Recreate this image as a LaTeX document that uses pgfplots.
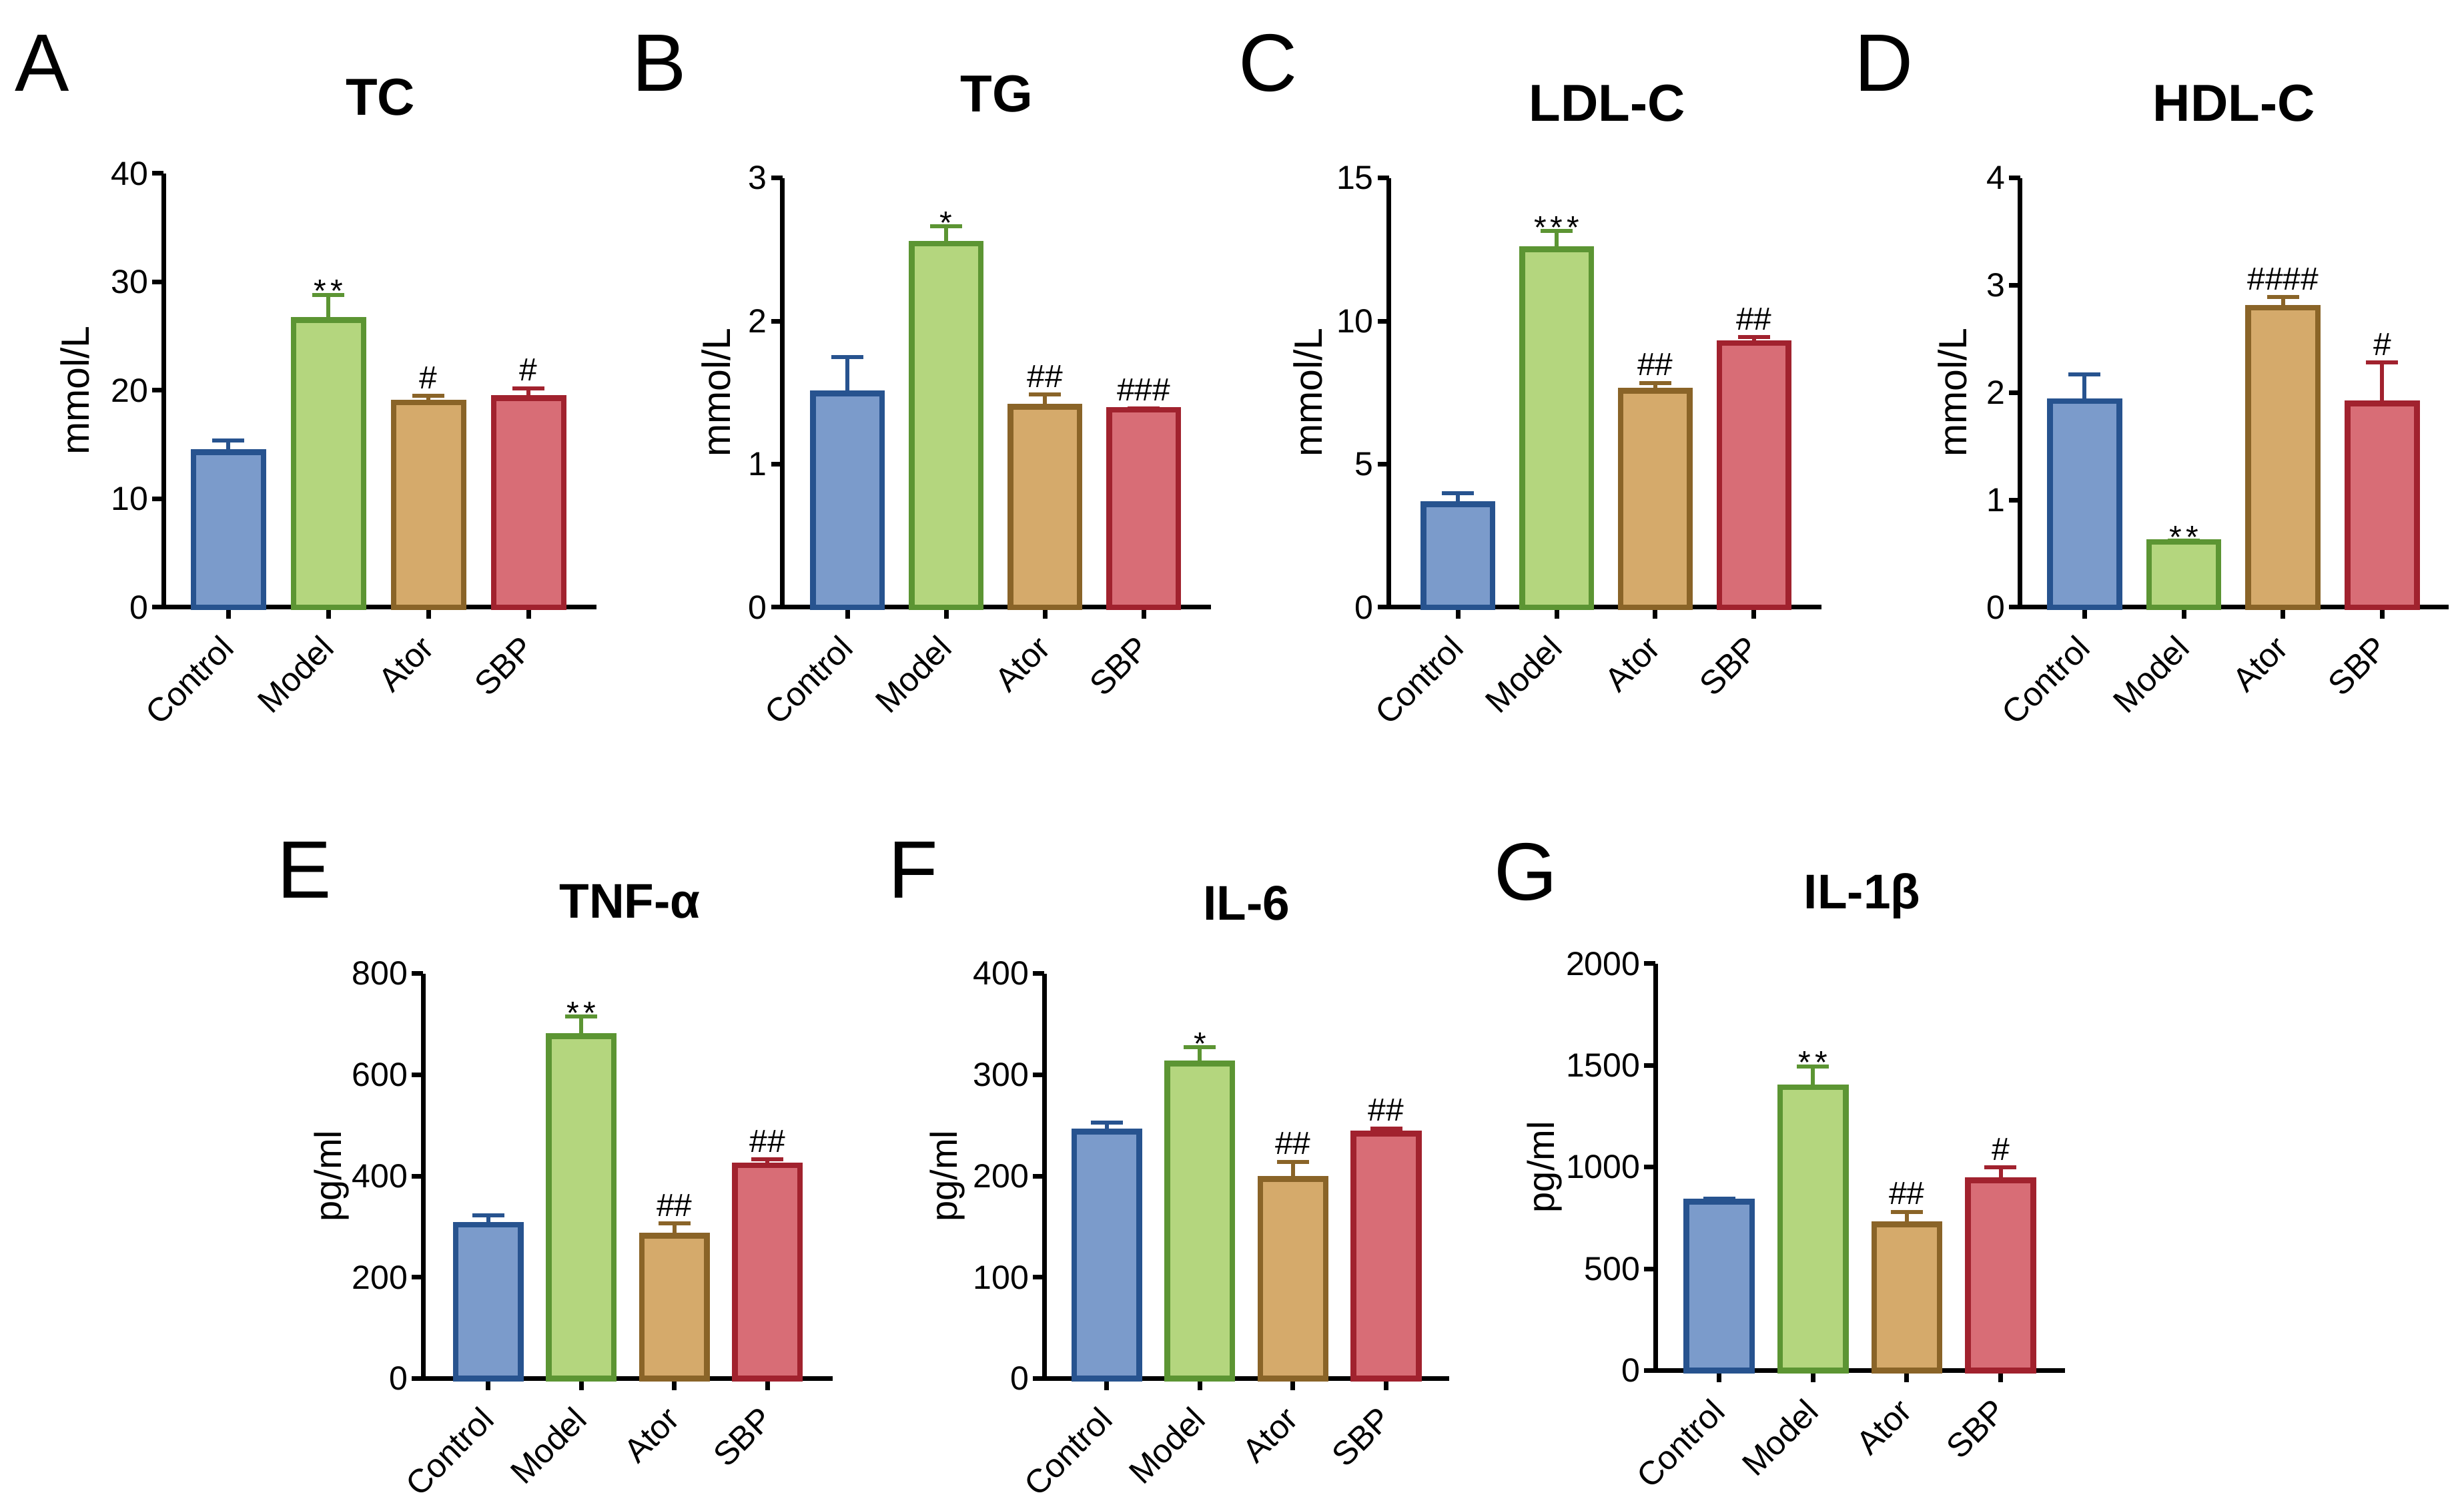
\documentclass[border=0pt]{standalone}
\usepackage{fontspec}
\setmainfont{Liberation Sans}
\usepackage{pgfplots}
\pgfplotsset{compat=1.18}

\definecolor{ctrlF}{HTML}{7B9BCB}
\definecolor{ctrlD}{HTML}{27538F}
\definecolor{modF}{HTML}{B4D67E}
\definecolor{modD}{HTML}{5C9533}
\definecolor{atorF}{HTML}{D5AA6B}
\definecolor{atorD}{HTML}{8A6428}
\definecolor{sbpF}{HTML}{D86D76}
\definecolor{sbpD}{HTML}{A1222E}

\newcommand{\tickfont}{\fontsize{5}{5.5}\selectfont}
\newcommand{\annfont}{\fontsize{4.8}{5.5}\selectfont}
\newcommand{\st}{*}
\newcommand{\sst}{*\kern0.6pt*}
\newcommand{\ssst}{*\kern0.6pt*\kern0.6pt*}

\pgfplotsset{
  panel/.style={
    scale only axis,
    anchor=south west,
    axis lines=left,
    axis line style={-, line width=0.7pt, black},
    every tick/.style={line width=0.7pt, black},
    major tick length=1.7pt,
    tick align=outside,
    xtick={0,1,2,3},
    xticklabels={Control,Model,Ator,SBP},
    xticklabel style={font=\tickfont, inner sep=0pt, yshift=-3.4pt, anchor=east, rotate=45},
    yticklabel style={font=\tickfont, inner sep=0.4pt},
    ymin=0,
    /pgf/number format/assume math mode=true,
    /pgf/number format/1000 sep={},
    ylabel style={font=\fontsize{5.9}{6.5}\selectfont},
    clip=false,
  },
  gbar/.style 2 args={ybar, bar width=0.7, bar shift=0pt, draw=#1, fill=#2, line width=0.85pt,
    error bars/y dir=plus, error bars/y explicit,
    error bars/error bar style={line width=0.6pt, draw=#1, solid},
    error bars/error mark options={rotate=90, mark size=2.4pt, line width=0.6pt, draw=#1, solid}},
  b0/.style={gbar={ctrlD}{ctrlF}},
  b1/.style={gbar={modD}{modF}},
  b2/.style={gbar={atorD}{atorF}},
  b3/.style={gbar={sbpD}{sbpF}},
}
\tikzset{
  hs/.style={font=\annfont, anchor=base, inner sep=0pt, yshift=1.1pt},
  as/.style={font=\annfont, anchor=base, inner sep=0pt, yshift=-1.1pt},
  ttl/.style={font=\fontsize{7.8}{8}\selectfont\bfseries, anchor=base},
  ttlb/.style={font=\fontsize{7.3}{8}\selectfont\bfseries, anchor=base},
  lett/.style={font=\fontsize{12.2}{13}\selectfont, anchor=base west, inner sep=0pt},
}

\begin{document}
\begin{tikzpicture}
\path[use as bounding box] (0,0) rectangle (369.3pt,224pt);

% ---------- A: TC ----------
\begin{axis}[panel, at={(24.54pt,133pt)}, width=64.83pt, height=65pt,
  xmin=-0.646, xmax=3.676, ymax=40, ytick={0,10,20,30,40},
  ylabel={mmol/L}, ylabel style={at={([xshift=-13.3pt]axis description cs:0,0.5)}, anchor=center}]
\addplot[b0] coordinates {(0,14.3) +- (0,1.1)};
\addplot[b1] coordinates {(1,26.5) +- (0,2.3)};
\addplot[b2] coordinates {(2,18.9) +- (0,0.6)};
\addplot[b3] coordinates {(3,19.3) +- (0,0.9)};
\node[as] at (axis cs:1,28.8) {\sst};
\node[hs] at (axis cs:2,19.5) {\#};
\node[hs] at (axis cs:3,20.2) {\#};
\end{axis}

% ---------- B: TG ----------
\begin{axis}[panel, at={(117.26pt,133pt)}, width=64.23pt, height=64.34pt,
  xmin=-0.66, xmax=3.68, ymax=3, ytick={0,1,2,3},
  ylabel={mmol/L}, ylabel style={at={([xshift=-9.9pt]axis description cs:0,0.5)}, anchor=center}]
\addplot[b0] coordinates {(0,1.495) +- (0,0.255)};
\addplot[b1] coordinates {(1,2.54) +- (0,0.12)};
\addplot[b2] coordinates {(2,1.40) +- (0,0.085)};
\addplot[b3] coordinates {(3,1.38) +- (0,0.01)};
\node[as] at (axis cs:1,2.66) {\st};
\node[hs] at (axis cs:2,1.485) {\#\#};
\node[hs] at (axis cs:3,1.39) {\#\#\#};
\end{axis}

% ---------- C: LDL-C ----------
\begin{axis}[panel, at={(208.17pt,133pt)}, width=64.83pt, height=64.34pt,
  xmin=-0.70, xmax=3.685, ymax=15, ytick={0,5,10,15},
  ylabel={mmol/L}, ylabel style={at={([xshift=-12.1pt]axis description cs:0,0.5)}, anchor=center}]
\addplot[b0] coordinates {(0,3.6) +- (0,0.39)};
\addplot[b1] coordinates {(1,12.51) +- (0,0.63)};
\addplot[b2] coordinates {(2,7.56) +- (0,0.28)};
\addplot[b3] coordinates {(3,9.23) +- (0,0.21)};
\node[as] at (axis cs:1,13.14) {\ssst};
\node[hs] at (axis cs:2,7.84) {\#\#};
\node[hs] at (axis cs:3,9.44) {\#\#};
\end{axis}

% ---------- D: HDL-C ----------
\begin{axis}[panel, at={(302.78pt,133pt)}, width=64.22pt, height=64.34pt,
  xmin=-0.65, xmax=3.67, ymax=4, ytick={0,1,2,3,4},
  ylabel={mmol/L}, ylabel style={at={([xshift=-10.1pt]axis description cs:0,0.5)}, anchor=center}]
\addplot[b0] coordinates {(0,1.92) +- (0,0.25)};
\addplot[b1] coordinates {(1,0.61) +- (0,0.01)};
\addplot[b2] coordinates {(2,2.79) +- (0,0.10)};
\addplot[b3] coordinates {(3,1.90) +- (0,0.38)};
\node[as] at (axis cs:1,0.62) {\sst};
\node[hs] at (axis cs:2,2.89) {\#\#\#\#};
\node[hs] at (axis cs:3,2.28) {\#};
\end{axis}

% ---------- E: TNF-alpha ----------
\begin{axis}[panel, at={(63.41pt,17.44pt)}, width=61.39pt, height=60.69pt,
  xmin=-0.70, xmax=3.70, ymax=800, ytick={0,200,400,600,800},
  ylabel={pg/ml}, ylabel style={font=\fontsize{5.6}{6}\selectfont, at={([xshift=-13.7pt]axis description cs:0,0.5)}, anchor=center}]
\addplot[b0] coordinates {(0,304) +- (0,18)};
\addplot[b1] coordinates {(1,676) +- (0,39)};
\addplot[b2] coordinates {(2,282) +- (0,24)};
\addplot[b3] coordinates {(3,421) +- (0,12)};
\node[as] at (axis cs:1,715) {\sst};
\node[hs] at (axis cs:2,306) {\#\#};
\node[hs] at (axis cs:3,433) {\#\#};
\end{axis}

% ---------- F: IL-6 ----------
\begin{axis}[panel, at={(156.52pt,17.44pt)}, width=60.73pt, height=60.69pt,
  xmin=-0.67, xmax=3.68, ymax=400, ytick={0,100,200,300,400},
  ylabel={pg/ml}, ylabel style={font=\fontsize{5.6}{6}\selectfont, at={([xshift=-14.5pt]axis description cs:0,0.5)}, anchor=center}]
\addplot[b0] coordinates {(0,244) +- (0,9)};
\addplot[b1] coordinates {(1,311) +- (0,16)};
\addplot[b2] coordinates {(2,197) +- (0,17)};
\addplot[b3] coordinates {(3,242) +- (0,5)};
\node[as] at (axis cs:1,327) {\st};
\node[hs] at (axis cs:2,214) {\#\#};
\node[hs] at (axis cs:3,247) {\#\#};
\end{axis}

% ---------- G: IL-1beta ----------
\begin{axis}[panel, at={(248.13pt,18.64pt)}, width=61.41pt, height=60.96pt,
  xmin=-0.68, xmax=3.69, ymax=2000, ytick={0,500,1000,1500,2000},
  ylabel={pg/ml}, ylabel style={font=\fontsize{5.6}{6}\selectfont, at={([xshift=-16.6pt]axis description cs:0,0.5)}, anchor=center}]
\addplot[b0] coordinates {(0,831) +- (0,13)};
\addplot[b1] coordinates {(1,1393) +- (0,102)};
\addplot[b2] coordinates {(2,718) +- (0,63)};
\addplot[b3] coordinates {(3,936) +- (0,63)};
\node[as] at (axis cs:1,1495) {\sst};
\node[hs] at (axis cs:2,781) {\#\#};
\node[hs] at (axis cs:3,999) {\#};
\end{axis}

% titles
\node[ttl] at (57.0pt,206.7pt) {TC};
\node[ttl] at (149.38pt,207.2pt) {TG};
\node[ttl] at (240.89pt,205.8pt) {LDL-C};
\node[ttl] at (334.8pt,205.8pt) {HDL-C};
\node[ttlb] at (94.4pt,86.4pt) {TNF-α};
\node[ttlb] at (186.8pt,86.1pt) {IL-6};
\node[ttlb] at (279.1pt,87.8pt) {IL-1β};

% panel letters
\node[lett] at (2.1pt,210.3pt) {A};
\node[lett] at (94.5pt,210.3pt) {B};
\node[lett] at (185.45pt,210.3pt) {C};
\node[lett] at (277.7pt,210.3pt) {D};
\node[lett] at (41.3pt,89.4pt) {E};
\node[lett] at (132.9pt,89.4pt) {F};
\node[lett] at (223.7pt,89.1pt) {G};
\end{tikzpicture}
\end{document}
